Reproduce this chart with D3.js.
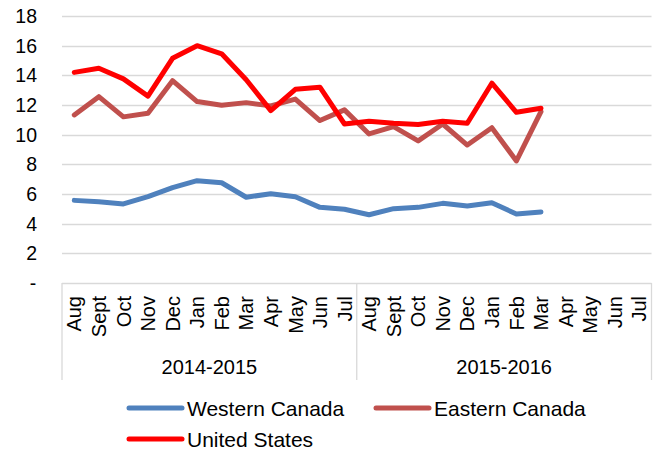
<!DOCTYPE html>
<html>
<head>
<meta charset="utf-8">
<title>Prices by region</title>
<script src="https://d3js.org/d3.v7.min.js"></script>
<style>
    body { margin: 0; background: #fff; }
    text { font-family: "Liberation Sans", Arial, sans-serif; fill: #000; }
</style>
</head>
<body>
<svg id="chart" width="660" height="451"></svg>
<script>
// data
var months = ["Aug","Sept","Oct","Nov","Dec","Jan","Feb","Mar","Apr","May","Jun","Jul"];
var seasons = ["2014-2015", "2015-2016"];
var yTicks = [0, 2, 4, 6, 8, 10, 12, 14, 16, 18];

var western = [5.57, 5.48, 5.33, 5.82, 6.43, 6.90, 6.76, 5.78, 6.02, 5.82, 5.10, 4.97,
               4.60, 5.01, 5.10, 5.37, 5.19, 5.41, 4.65, 4.79];
var eastern = [11.33, 12.56, 11.20, 11.44, 13.64, 12.23, 11.98, 12.16, 11.94, 12.40, 10.95, 11.67,
               10.05, 10.54, 9.58, 10.72, 9.30, 10.47, 8.23, 11.55];
var unitedStates = [14.20, 14.48, 13.76, 12.60, 15.15, 16.00, 15.45, 13.70, 11.62, 13.06, 13.20, 10.72,
                    10.90, 10.77, 10.68, 10.90, 10.77, 13.47, 11.51, 11.78];

var seriesNames = ["Western Canada", "Eastern Canada", "United States"];
var seriesColors = ["#4F81BD", "#C0504D", "#FF0000"];
var seriesValues = [western, eastern, unitedStates];

// every category key: season index + month
var categories = [];
seasons.forEach(function(s, si){
    months.forEach(function(m){ categories.push(si + "-" + m); });
});

var svg = d3.select("#chart");
var plotLeft = 62, plotRight = 651.5, plotTop = 16, plotBottom = 283;

var x = d3.scaleBand().domain(categories).range([plotLeft, plotRight]);
var y = d3.scaleLinear().domain([0, 18]).range([plotBottom, plotTop]);

// gridlines
svg.append("g").selectAll("line")
    .data(yTicks.filter(function(d){ return d > 0; }))
    .enter().append("line")
    .attr("x1", plotLeft).attr("x2", plotRight)
    .attr("y1", function(d){ return Math.round(y(d)) + 0.5; })
    .attr("y2", function(d){ return Math.round(y(d)) + 0.5; })
    .attr("stroke", "#D9D9D9").attr("stroke-width", 1.3);

// y labels
svg.append("g").selectAll("text")
    .data(yTicks)
    .enter().append("text")
    .attr("x", function(d){ return d === 0 ? 33 : 37; })
    .attr("y", function(d){ return y(d); })
    .attr("dy", "0.36em")
    .attr("text-anchor", function(d){ return d === 0 ? "middle" : "end"; })
    .style("font-size", "19.5px")
    .text(function(d){ return d === 0 ? "-" : d; });

// category box
var axisG = svg.append("g");
axisG.append("line")
    .attr("x1", plotLeft).attr("x2", plotRight)
    .attr("y1", plotBottom + 0.5).attr("y2", plotBottom + 0.5)
    .attr("stroke", "#D9D9D9").attr("stroke-width", 1.3);
var dividers = [plotLeft, (plotLeft + plotRight) / 2, plotRight];
axisG.selectAll("line.div")
    .data(dividers)
    .enter().append("line")
    .attr("class", "div")
    .attr("x1", function(d){ return d; }).attr("x2", function(d){ return d; })
    .attr("y1", plotBottom).attr("y2", 380)
    .attr("stroke", "#D9D9D9").attr("stroke-width", 1.3);

// month labels
axisG.selectAll("text.month")
    .data(categories)
    .enter().append("text")
    .attr("class", "month")
    .attr("transform", function(d){
        return "translate(" + (x(d) + x.bandwidth() / 2) + ",296) rotate(-90)";
    })
    .attr("dy", "0.36em")
    .attr("text-anchor", "end")
    .style("font-size", "20px")
    .text(function(d){ return d.split("-")[1]; });

// season labels
axisG.selectAll("text.season")
    .data(seasons)
    .enter().append("text")
    .attr("class", "season")
    .attr("x", function(d, i){ return plotLeft + (plotRight - plotLeft) / 4 * (2 * i + 1); })
    .attr("y", 374)
    .attr("text-anchor", "middle")
    .style("font-size", "20px")
    .text(function(d){ return d; });

// lines
var line = d3.line()
    .x(function(d, i){ return x(categories[i]) + x.bandwidth() / 2; })
    .y(function(d){ return y(d); });

svg.append("g").selectAll("path")
    .data(seriesValues)
    .enter().append("path")
    .attr("d", line)
    .attr("fill", "none")
    .attr("stroke", function(d, i){ return seriesColors[i]; })
    .attr("stroke-width", 5)
    .attr("stroke-linejoin", "round")
    .attr("stroke-linecap", "round");

// legend
var legendPos = [[127, 408], [374, 408], [127, 439]];
var legend = svg.append("g").selectAll("g")
    .data(seriesNames)
    .enter().append("g")
    .attr("transform", function(d, i){ return "translate(" + legendPos[i][0] + "," + legendPos[i][1] + ")"; });
legend.append("line")
    .attr("x1", 2).attr("x2", 55)
    .attr("stroke", function(d, i){ return seriesColors[i]; })
    .attr("stroke-width", 5)
    .attr("stroke-linecap", "round");
legend.append("text")
    .attr("x", 60)
    .attr("dy", "0.36em")
    .style("font-size", "21px")
    .text(function(d){ return d; });
</script>
</body>
</html>
